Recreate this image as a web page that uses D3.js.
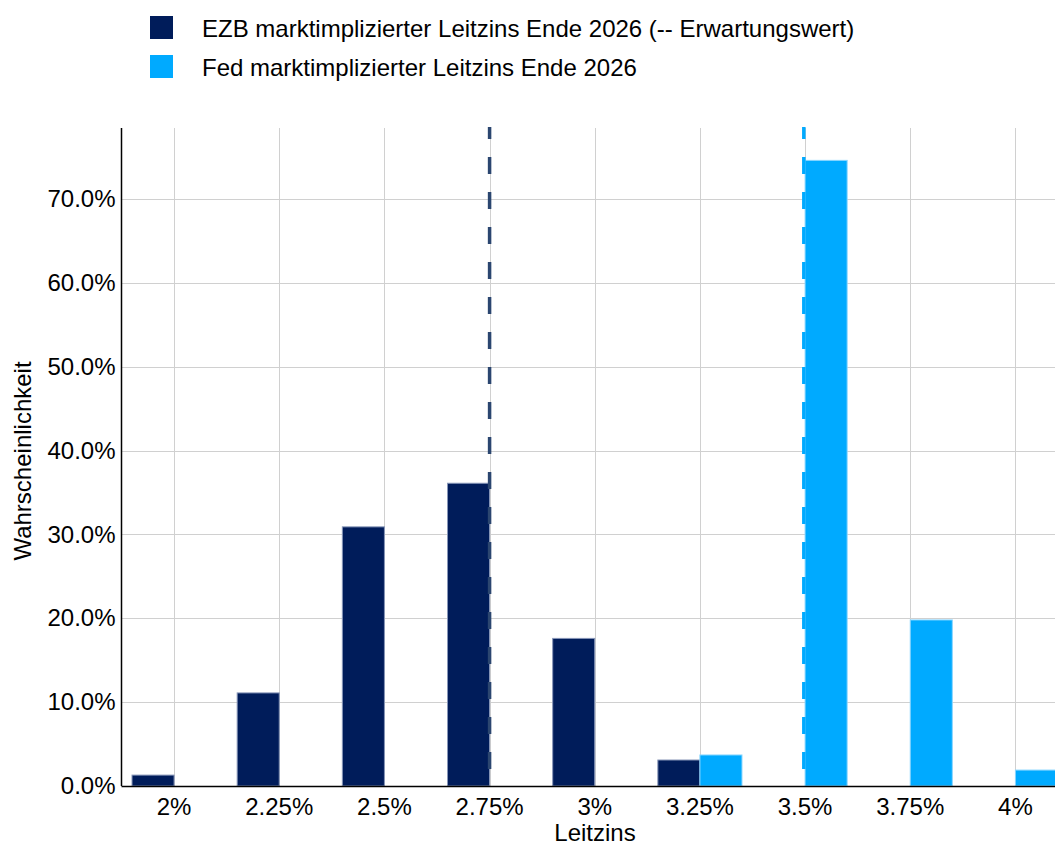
<!DOCTYPE html>
<html>
<head>
<meta charset="utf-8">
<script src="https://cdn.jsdelivr.net/npm/d3@7"></script>
<style>
	body{margin:0;background:#fff;}
	svg{display:block;font-family:"Liberation Sans",Arial,sans-serif;}
</style>
</head>
<body>
<div id="chart-div"></div>
<script>
// Kategorien (Leitzins) und Wahrscheinlichkeiten
var categories=["2%","2.25%","2.5%","2.75%","3%","3.25%","3.5%","3.75%","4%"];
var rateValues=[2,2.25,2.5,2.75,3,3.25,3.5,3.75,4];
var ezbValues=[0.013,0.111,0.309,0.361,0.176,0.031,0,0,0];
var fedValues=[0,0,0,0,0,0.037,0.746,0.198,0.019];
var expectedValues=[2.75,3.497];
var seriesNames=["EZB marktimplizierter Leitzins Ende 2026 (-- Erwartungswert)","Fed marktimplizierter Leitzins Ende 2026"];
var yTicks=[0,0.1,0.2,0.3,0.4,0.5,0.6,0.7];

var width=1055, height=847;
var padding={left:121.5, right:-13, top:128, bottom:61};
var colors=["#001c5a","#00aaff"];
var strokes=["#8796b8","#8ad6ff"];
var dashColors=["#2b4670","#00aaff"];
var fontSize="24px";

var svg=d3.select("#chart-div").append("svg")
	.attr("width",width).attr("height",height);

var x_scale=d3.scaleBand().domain(categories)
	.range([padding.left,width-padding.right]).padding(0);
var bw=x_scale.bandwidth();
var y_scale=d3.scaleLinear().domain([0,0.7846])
	.range([height-padding.bottom,padding.top]);
// Zinsniveau -> x-Position (fuer die Erwartungswert-Linien)
var rate_scale=d3.scaleLinear().domain([rateValues[0],rateValues[rateValues.length-1]])
	.range([x_scale(categories[0])+bw/2,x_scale(categories[categories.length-1])+bw/2]);

// Gitter
var gridg=svg.append("g").attr("class","grid");
gridg.selectAll("line.h").data(yTicks.slice(1)).enter().append("line")
	.attr("x1",padding.left).attr("x2",width)
	.attr("y1",function(d){return Math.round(y_scale(d))+0.5;})
	.attr("y2",function(d){return Math.round(y_scale(d))+0.5;})
	.attr("stroke","#d0d0d0").attr("stroke-width",1);
gridg.selectAll("line.v").data(categories).enter().append("line")
	.attr("x1",function(d){return Math.round(x_scale(d)+bw/2)+0.5;})
	.attr("x2",function(d){return Math.round(x_scale(d)+bw/2)+0.5;})
	.attr("y1",padding.top).attr("y2",height-padding.bottom)
	.attr("stroke","#d0d0d0").attr("stroke-width",1);

// Balken
var series=[ezbValues,fedValues];
series.forEach(function(vals,k){
	svg.append("g").attr("class","bars"+k)
		.selectAll("rect").data(vals).enter().append("rect")
		.attr("x",function(d,i){
			var c=x_scale(categories[i])+bw/2;
			return k==0 ? c-bw*0.4 : c;
		})
		.attr("y",function(d){return y_scale(d);})
		.attr("width",bw*0.4)
		.attr("height",function(d){return y_scale(0)-y_scale(d);})
		.attr("fill",colors[k])
		.attr("stroke",function(d){return d>0?strokes[k]:"none";})
		.attr("stroke-width",1);
});

// Erwartungswerte (gestrichelt)
svg.append("g").attr("class","expected")
	.selectAll("line").data(expectedValues).enter().append("line")
	.attr("x1",function(d){return rate_scale(d);})
	.attr("x2",function(d){return rate_scale(d);})
	.attr("y1",padding.top-1).attr("y2",height-padding.bottom)
	.attr("stroke",function(d,i){return dashColors[i];})
	.attr("stroke-width",3.5)
	.attr("stroke-dasharray","17 18")
	.attr("stroke-dashoffset",5);

// Achsen
var y_axis=d3.axisLeft(y_scale).tickValues(yTicks).tickFormat(d3.format(".1%"))
	.tickSize(0).tickPadding(6);
var yg=svg.append("g").attr("transform","translate("+padding.left+",0)").call(y_axis);
yg.select(".domain").remove();
yg.selectAll("text").attr("font-size",fontSize).attr("fill","#000")
	.attr("font-family","'Liberation Sans',Arial,sans-serif");

var x_axis=d3.axisBottom(x_scale).tickSize(0).tickPadding(12);
var xg=svg.append("g").attr("transform","translate(0,"+(height-padding.bottom)+")").call(x_axis);
xg.select(".domain").remove();
xg.selectAll("text").attr("font-size",fontSize).attr("fill","#000")
	.attr("font-family","'Liberation Sans',Arial,sans-serif");

svg.append("line").attr("x1",padding.left).attr("x2",width)
	.attr("y1",height-padding.bottom+0.5).attr("y2",height-padding.bottom+0.5)
	.attr("stroke","#000").attr("stroke-width",1.5);
svg.append("line").attr("x1",padding.left).attr("x2",padding.left)
	.attr("y1",padding.top).attr("y2",height-padding.bottom)
	.attr("stroke","#000").attr("stroke-width",1.5);

// Achsentitel
svg.append("text").attr("x",595).attr("y",841)
	.attr("text-anchor","middle").attr("font-size",fontSize).text("Leitzins");
svg.append("text")
	.attr("transform","translate(31,461) rotate(-90)")
	.attr("text-anchor","middle").attr("font-size",fontSize).text("Wahrscheinlichkeit");

// Legende
var legend=svg.append("g").attr("class","legend")
	.selectAll("g").data(seriesNames).enter().append("g")
	.attr("transform",function(d,i){return "translate(150,"+(16+i*39)+")";});
legend.append("rect").attr("x",0).attr("y",0).attr("width",23).attr("height",23)
	.attr("fill",function(d,i){return colors[i];});
legend.append("text").attr("x",52).attr("y",21)
	.attr("font-size",fontSize).text(function(d){return d;});
</script>
</body>
</html>
